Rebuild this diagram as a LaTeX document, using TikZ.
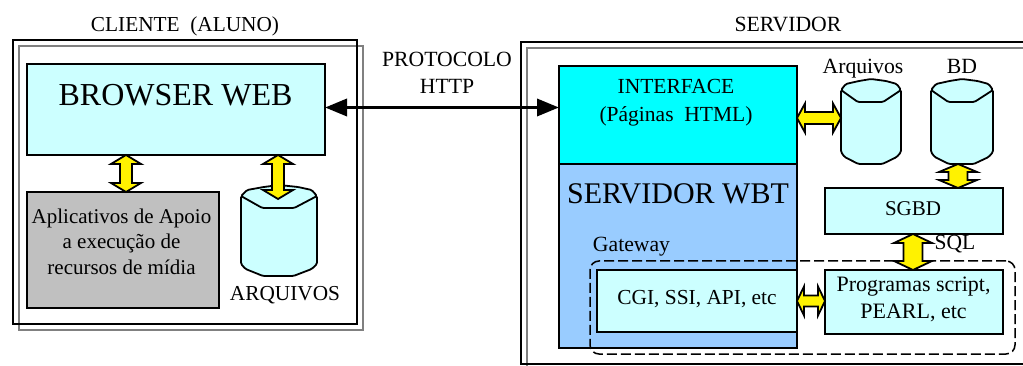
\documentclass[tikz,border=0pt]{standalone}
\usepackage{fontspec}
\setmainfont{Liberation Serif}
\usetikzlibrary{calc,arrows.meta}
\definecolor{boxcyan}{HTML}{CCFFFF}
\definecolor{ifcyan}{HTML}{00FFFF}
\definecolor{wbtblue}{HTML}{99CCFF}
\definecolor{appgray}{HTML}{C0C0C0}
\definecolor{framegray}{HTML}{808080}
\tikzset{
  x=1pt,y=-1pt,
  every node/.style={inner sep=0pt,outer sep=0pt},
  boxstyle/.style={draw=black,line width=1.9pt,anchor=north west},
  lightbox/.style={boxstyle,fill=boxcyan},
  txt/.style={font=\fontsize{#1}{#1}\selectfont,anchor=base,text=black},
  txtblock/.style 2 args={font=\fontsize{#1}{#2}\selectfont,align=center,anchor=center,text=black},
  drumline/.style={draw=black,fill=boxcyan,line width=1.8pt,line join=round,rounded corners=1.5pt},
  yarrow/.style n args={3}{draw=black,fill=yellow,line width=1.8pt,line join=miter,
    to path={
      -- ($($(\tikztostart)!#3pt!(\tikztotarget)$)!#1pt!90:(\tikztotarget)$)
      -- ($($(\tikztostart)!#3pt!(\tikztotarget)$)!#2pt!90:(\tikztotarget)$)
      -- ($($(\tikztotarget)!#3pt!(\tikztostart)$)!#2pt!-90:(\tikztostart)$)
      -- ($($(\tikztotarget)!#3pt!(\tikztostart)$)!#1pt!-90:(\tikztostart)$)
      -- (\tikztotarget)
      -- ($($(\tikztotarget)!#3pt!(\tikztostart)$)!#1pt!90:(\tikztostart)$)
      -- ($($(\tikztotarget)!#3pt!(\tikztostart)$)!#2pt!90:(\tikztostart)$)
      -- ($($(\tikztostart)!#3pt!(\tikztotarget)$)!#2pt!-90:(\tikztotarget)$)
      -- ($($(\tikztostart)!#3pt!(\tikztotarget)$)!#1pt!-90:(\tikztotarget)$)
      -- cycle}},
}
% drum: name, x, y, width, height
\newcommand{\drum}[5]{%
  \node[anchor=north west,minimum width=#4pt,minimum height=#5pt] (#1) at (#2,#3) {};
  \begin{scope}[shift={(#2,#3)},xscale=#4]
    \draw[drumline] (0,11) -- (0,#5-12) -- (0.06,#5-7) -- (0.29,#5) -- (0.69,#5) -- (0.93,#5-7) -- (1,#5-12) -- (1,11) -- cycle;
    \draw[drumline] (0,11) -- (0.08,5) -- (0.3,2) -- (0.5,0) -- (0.75,2) -- (0.93,5) -- (1,11) -- (0.7,23) -- (0.28,23) -- cycle;
  \end{scope}}
\begin{document}
\begin{tikzpicture}
\useasboundingbox (0,0) rectangle (1023,366);
% client frames
\node[boxstyle,draw=framegray,minimum width=344pt,minimum height=284pt] (cg) at (19,46) {};
\node[boxstyle,minimum width=344pt,minimum height=284pt] (co) at (13,40) {};
% server frames
\node[boxstyle,draw=framegray,minimum width=510pt,minimum height=330pt] (sg) at (527,48) {};
\node[boxstyle,minimum width=510pt,minimum height=322pt] (so) at (521,42) {};
% client contents
\node[lightbox,minimum width=298pt,minimum height=91pt] (browser) at (27,64) {};
\node[txt=32] (browsert) at (175.5,106) {BROWSER WEB};
\node[boxstyle,fill=appgray,minimum width=192pt,minimum height=116pt] (apps) at (27,192) {};
\node[txtblock={21}{25.5}] (appst) at (121.5,241.5) {Aplicativos de Apoio\\a execução de\\recursos de mídia};
\drum{arq}{241}{185}{76}{91}
\node[txt=21.3] (arqt) at (285,300) {ARQUIVOS};
\node[txt=21.3] (clit) at (185,32) {CLIENTE\ \ (ALUNO)};
\node[txt=21.7] (servt) at (788,32) {SERVIDOR};
\node[txtblock={21.7}{27}] (proto) at (447,72.5) {PROTOCOLO\\HTTP};
% server contents
\node[boxstyle,fill=ifcyan,minimum width=238pt,minimum height=98pt] (iface) at (559,66) {};
\node[txtblock={21.5}{28.5}] (ifacet) at (676,102.5) {INTERFACE\\(Páginas\ \ HTML)};
\node[boxstyle,fill=wbtblue,minimum width=238pt,minimum height=184pt] (wbt) at (559,164) {};
\node[txt=30] (wbtt) at (678,204) {SERVIDOR WBT};
\node[txt=21.7] (gatet) at (631.5,252) {Gateway};
\node[lightbox,minimum width=200pt,minimum height=62pt] (cgi) at (597,270) {};
\node[txt=21.4] (cgit) at (697,304) {CGI, SSI, API, etc};
\node[lightbox,minimum width=178pt,minimum height=46pt] (sgbd) at (825,188) {};
\node[txt=21] (sgbdt) at (913,216) {SGBD};
\node[lightbox,minimum width=178pt,minimum height=64pt] (prog) at (825,270) {};
\node[txtblock={22}{27.5}] (progt) at (913.5,299.5) {Programas script,\\PEARL, etc};
\drum{carq}{841}{79}{60}{85}
\drum{cbd}{931}{79}{62}{85}
\node[txt=21.7] (arqlab) at (863,74) {Arquivos};
\node[txt=21.7] (bdlab) at (962,74) {BD};
\node[txt=21.5] (sqlt) at (955,250) {SQL};
% gateway dashed region
\node[draw=black,line width=1.5pt,dash pattern=on 10pt off 4pt,rounded corners=9pt,anchor=north west,
  minimum width=425pt,minimum height=93pt] (gate) at (590,261) {};
% black HTTP connector
\draw[line width=3.5pt,{Triangle[length=22pt,width=17pt]}-{Triangle[length=22pt,width=17pt]}] (browser.east |- 0,107.5) -- (iface.west |- 0,107.5);
% yellow connectors
\coordinate (y1a) at (126,0 |- browser.south); \coordinate (y1b) at (126,0 |- apps.north);
\draw[yarrow={15}{6}{9}] (y1a) to (y1b);
\coordinate (y2a) at (278,0 |- browser.south); \coordinate (y2b) at (278,199);
\draw[yarrow={15}{6}{9}] (y2a) to (y2b);
\coordinate (y3a) at (wbt.east |- 0,118); \coordinate (y3b) at (carq.west |- 0,118);
\draw[yarrow={14.5}{6}{8}] (y3a) to (y3b);
\coordinate (y4a) at (958,0 |- cbd.south); \coordinate (y4b) at (958,0 |- sgbd.north);
\draw[yarrow={19}{9.5}{8}] (y4a) to (y4b);
\coordinate (y5a) at (913,0 |- sgbd.south); \coordinate (y5b) at (913,0 |- prog.north);
\draw[yarrow={19}{9.5}{9}] (y5a) to (y5b);
\coordinate (y6a) at (cgi.east |- 0,301); \coordinate (y6b) at (prog.west |- 0,301);
\draw[yarrow={14.5}{5.5}{7}] (y6a) to (y6b);
\end{tikzpicture}
\end{document}
